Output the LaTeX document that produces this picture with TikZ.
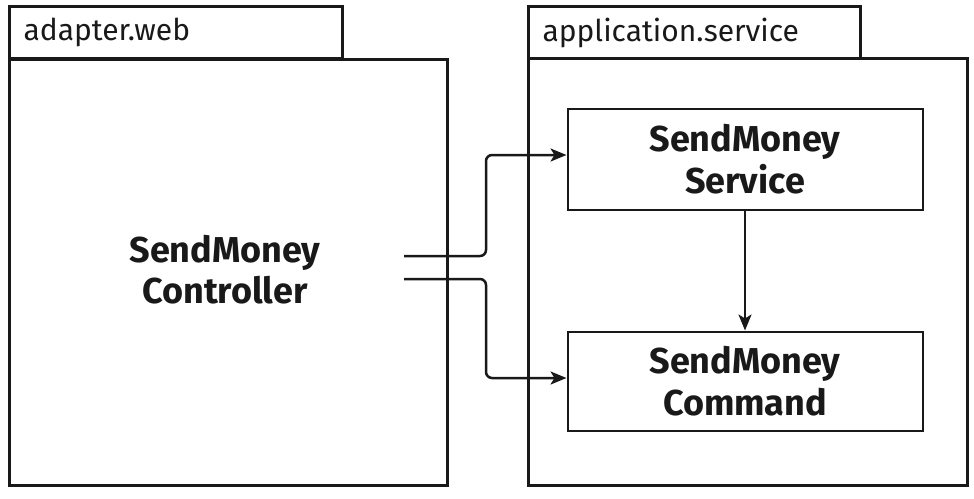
\documentclass[tikz,border=0pt]{standalone}
\usepackage{fontspec}
\setmainfont{Fira Sans}
\usetikzlibrary{arrows.meta}

\begin{document}
\begin{tikzpicture}[
  x=1pt, y=-1pt,
  every node/.style={text=black!90},
  pkgtab/.style={draw=black!90, line width=3pt, anchor=north west, minimum height=52pt,
    text width=305pt, inner xsep=14pt, align=left, font=\fontsize{30}{33}\selectfont},
  pkgbody/.style={draw=black!90, line width=3pt, anchor=north west},
  classbox/.style={draw=black!90, line width=2pt, minimum width=355pt, minimum height=101pt,
    align=center, font=\fontsize{36}{42}\selectfont\bfseries},
  classtext/.style={align=center, font=\fontsize{36}{41}\selectfont\bfseries},
  conn/.style={draw=black!90, line width=2.5pt, rounded corners=6pt, -{Stealth[length=16pt,width=13pt,inset=4pt]}}
  ]
  \useasboundingbox (0,0) rectangle (974,498);

  % adapter.web package
  \node[pkgtab] (webtab) at (8,5) {adapter.web};
  \node[pkgbody, minimum width=438pt, minimum height=426pt] (web) at (8,58) {};
  \node[classtext] (ctrl) at (225,270) {SendMoney\\Controller};

  % application.service package
  \node[pkgtab, text width=304pt] (svctab) at (527,5) {application.service};
  \node[pkgbody, minimum width=439pt, minimum height=427pt] (app) at (527,57) {};
  \node[classbox] (svc) at (745,159) {SendMoney\\Service};
  \node[classbox, minimum height=99pt] (cmd) at (745,381) {SendMoney\\Command};

  % connectors
  \coordinate (out1) at (404,256);
  \coordinate (out2) at (404,279);
  \draw[conn] (out1) -- (486,256) |- ([yshift=4pt]svc.west);
  \draw[conn] (out2) -- (486,279) |- ([yshift=3pt]cmd.west);
  \draw[conn] (svc) -- (cmd);
\end{tikzpicture}
\end{document}
